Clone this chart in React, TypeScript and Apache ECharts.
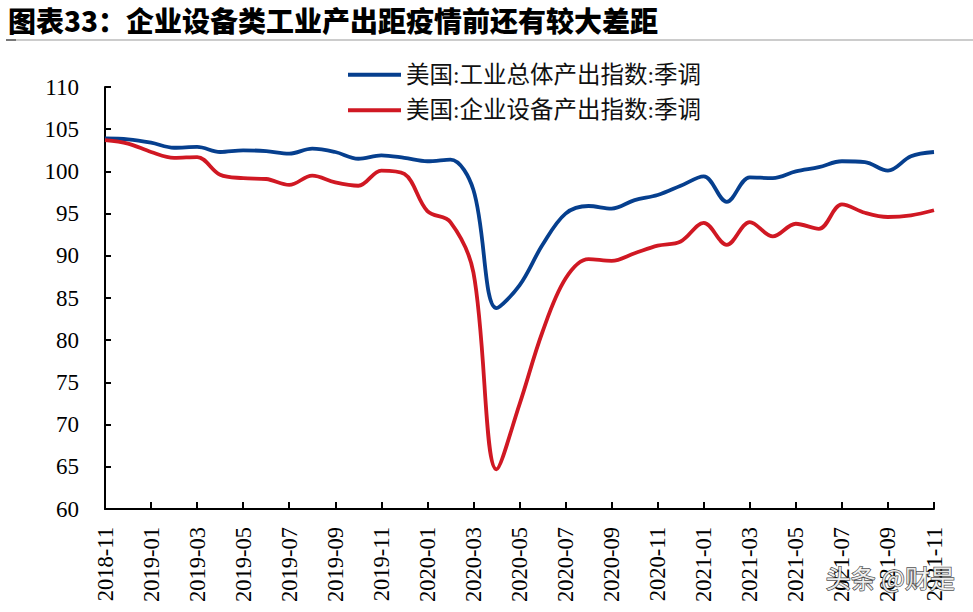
import React, { useEffect, useRef } from "react";
import * as echarts from "echarts";

const titleText = "图表33：企业设备类工业产出距疫情前还有较大差距";
const seriesNames = ["美国:工业总体产出指数:季调", "美国:企业设备产出指数:季调"];
const months = [
  "2018-11", "2018-12", "2019-01", "2019-02", "2019-03", "2019-04", "2019-05", "2019-06",
  "2019-07", "2019-08", "2019-09", "2019-10", "2019-11", "2019-12", "2020-01", "2020-02",
  "2020-03", "2020-04", "2020-05", "2020-06", "2020-07", "2020-08", "2020-09", "2020-10",
  "2020-11", "2020-12", "2021-01", "2021-02", "2021-03", "2021-04", "2021-05", "2021-06",
  "2021-07", "2021-08", "2021-09", "2021-10", "2021-11",
];
const industrialTotal = [
  103.9, 103.8, 103.4, 102.8, 102.9, 102.3, 102.5, 102.4, 102.1, 102.7, 102.3, 101.5,
  101.9, 101.6, 101.2, 101.4, 97.8, 83.8, 86.5, 91.3, 95.0, 95.9, 95.6, 96.6,
  97.2, 98.3, 99.4, 96.4, 99.3, 99.2, 100.0, 100.5, 101.2, 101.1, 100.1, 101.8, 102.3,
];
const businessEquipment = [
  103.7, 103.3, 102.3, 101.6, 101.7, 99.6, 99.2, 99.1, 98.4, 99.5, 98.7, 98.3,
  100.1, 99.7, 95.3, 94.0, 88.0, 64.7, 72.4, 81.0, 87.3, 89.6, 89.4, 90.3,
  91.2, 91.7, 93.9, 91.3, 94.0, 92.3, 93.8, 93.2, 96.1, 95.1, 94.6, 94.8, 95.4,
];
const yMin = 60;
const yMax = 110;
const yStep = 5;
const watermarkText = "头条 @财是";

const BLUE = "#063f8e";
const RED = "#d01823";
const SERIF = "'Liberation Serif', 'Times New Roman', serif";
const CJK = "'Liberation Serif', 'Noto Sans CJK SC', serif";

export default function App() {
  const ref = useRef<HTMLDivElement>(null);

  useEffect(() => {
    if (!ref.current) return;
    const chart = echarts.init(ref.current, null, { renderer: "svg" });
    chart.setOption({
      animation: false,
      backgroundColor: "#ffffff",
      grid: { left: 105, right: 39, top: 87, bottom: 103, containLabel: false },
      legend: {
        orient: "vertical",
        left: 348,
        top: 63,
        padding: 0,
        icon: "rect",
        itemWidth: 53,
        itemHeight: 4,
        itemGap: 12,
        textStyle: { fontFamily: CJK, fontSize: 23.5, color: "#111" },
        data: seriesNames,
      },
      xAxis: {
        type: "category",
        data: months,
        boundaryGap: false,
        axisLine: { lineStyle: { color: "#000", width: 2 } },
        axisTick: { inside: true, length: 7, interval: 1, lineStyle: { color: "#000", width: 2 } },
        axisLabel: {
          interval: 1,
          rotate: 90,
          margin: 18,
          fontFamily: SERIF,
          fontSize: 22.5,
          color: "#000",
        },
        splitLine: { show: false },
      },
      yAxis: {
        type: "value",
        min: yMin,
        max: yMax,
        interval: yStep,
        axisLine: { show: true, lineStyle: { color: "#000", width: 2 } },
        axisTick: { show: true, inside: true, length: 6, lineStyle: { color: "#000", width: 2 } },
        axisLabel: { margin: 26, fontFamily: SERIF, fontSize: 23, color: "#000" },
        splitLine: { show: false },
      },
      series: [
        {
          name: seriesNames[0],
          type: "line",
          data: industrialTotal,
          smooth: 0.35,
          showSymbol: false,
          lineStyle: { color: BLUE, width: 3.8 },
          itemStyle: { color: BLUE },
        },
        {
          name: seriesNames[1],
          type: "line",
          data: businessEquipment,
          smooth: 0.35,
          showSymbol: false,
          lineStyle: { color: RED, width: 3.8 },
          itemStyle: { color: RED },
        },
      ],
      graphic: [
        {
          type: "text",
          left: 8,
          top: 6,
          style: {
            text: titleText,
            fontFamily: "'Noto Sans CJK SC', sans-serif",
            fontWeight: 900,
            fontSize: 28,
            fill: "#000",
          },
        },
        {
          type: "line",
          shape: { x1: 8, y1: 40, x2: 973, y2: 40 },
          style: { stroke: "#9a9a9a", lineWidth: 1.2 },
        },
        {
          type: "line",
          shape: { x1: 6, y1: 40, x2: 16, y2: 40 },
          style: { stroke: "#777", lineWidth: 2 },
        },
        {
          type: "text",
          left: 825,
          top: 564,
          z: 100,
          style: {
            text: watermarkText,
            fontFamily: "'Noto Sans CJK SC', sans-serif",
            fontSize: 25,
            fill: "rgba(255,255,255,0.9)",
            stroke: "rgba(50,50,50,0.85)",
            lineWidth: 1.5,
          },
        },
      ],
    });
    return () => chart.dispose();
  }, []);

  return (
    <div
      ref={ref}
      style={{ position: "fixed", left: 0, top: 0, width: 973, height: 612, background: "#fff" }}
    />
  );
}
